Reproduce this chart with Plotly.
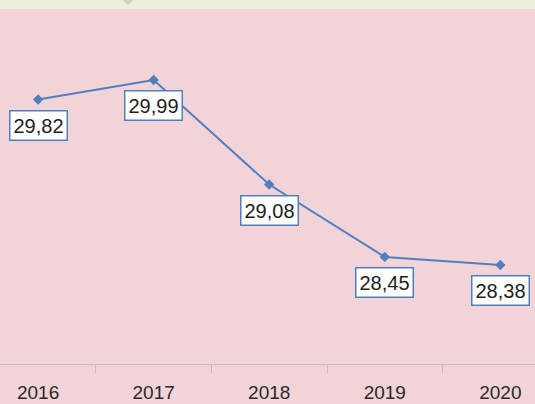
import plotly.graph_objects as go

years = ["2016", "2017", "2018", "2019", "2020"]
values = [29.82, 29.99, 29.08, 28.45, 28.38]
labels = ["29,82", "29,99", "29,08", "28,45", "28,38"]

line_color = "#4f7fc0"
font_family = "Liberation Sans, Arial, sans-serif"
xs = list(range(len(years)))

fig = go.Figure()
fig.add_trace(go.Scatter(
    x=xs, y=values, mode="lines+markers",
    line=dict(color=line_color, width=2),
    marker=dict(symbol="diamond", size=8, color=line_color),
    hoverinfo="skip", showlegend=False, cliponaxis=False,
))

for xi, v, t in zip(xs, values, labels):
    fig.add_annotation(
        x=xi, y=v, xref="x", yref="y", text=t, showarrow=False,
        yshift=-26, font=dict(family=font_family, size=20, color="#1e1e1e"),
        bgcolor="white", bordercolor=line_color, borderwidth=1.5, borderpad=3,
    )

H_PLOT = 364.0
W = 535.0
# top beige band
fig.add_shape(type="rect", xref="paper", yref="paper",
              x0=0, x1=1, y0=(H_PLOT - 9) / H_PLOT, y1=1.0,
              fillcolor="#eef0dc", line=dict(width=0), layer="below")
# small diamond at top
cx, cy, r = 128 / W, 1.0, 5.5
fig.add_shape(type="path", xref="paper", yref="paper",
              path=f"M {cx - r / W} {cy} L {cx} {cy - r / H_PLOT} L {cx + r / W} {cy} L {cx} {cy + r / H_PLOT} Z",
              fillcolor="#cfd3c2", line=dict(width=0), layer="below")

fig.update_layout(
    width=535, height=404,
    margin=dict(l=0, r=0, t=0, b=40),
    paper_bgcolor="#f2d3d7", plot_bgcolor="rgba(0,0,0,0)",
    xaxis=dict(
        range=[-0.33, 4.3],
        tickvals=xs, ticktext=years, ticks="",
        minor=dict(tick0=0.5, dtick=1, ticks="outside", ticklen=8,
                   tickcolor="#bfbfbf", tickwidth=1, showgrid=False),
        showline=True, linecolor="#bfbfbf", linewidth=1,
        showgrid=False, zeroline=False,
        tickfont=dict(family=font_family, size=19, color="#2a2a2a"),
        ticklabelstandoff=11,
    ),
    yaxis=dict(range=[27.518, 30.686], visible=False, showgrid=False, zeroline=False),
)

fig.write_html("out.html", config={"displayModeBar": False},
               post_script="document.body.style.margin='0';document.body.style.overflow='hidden';")
